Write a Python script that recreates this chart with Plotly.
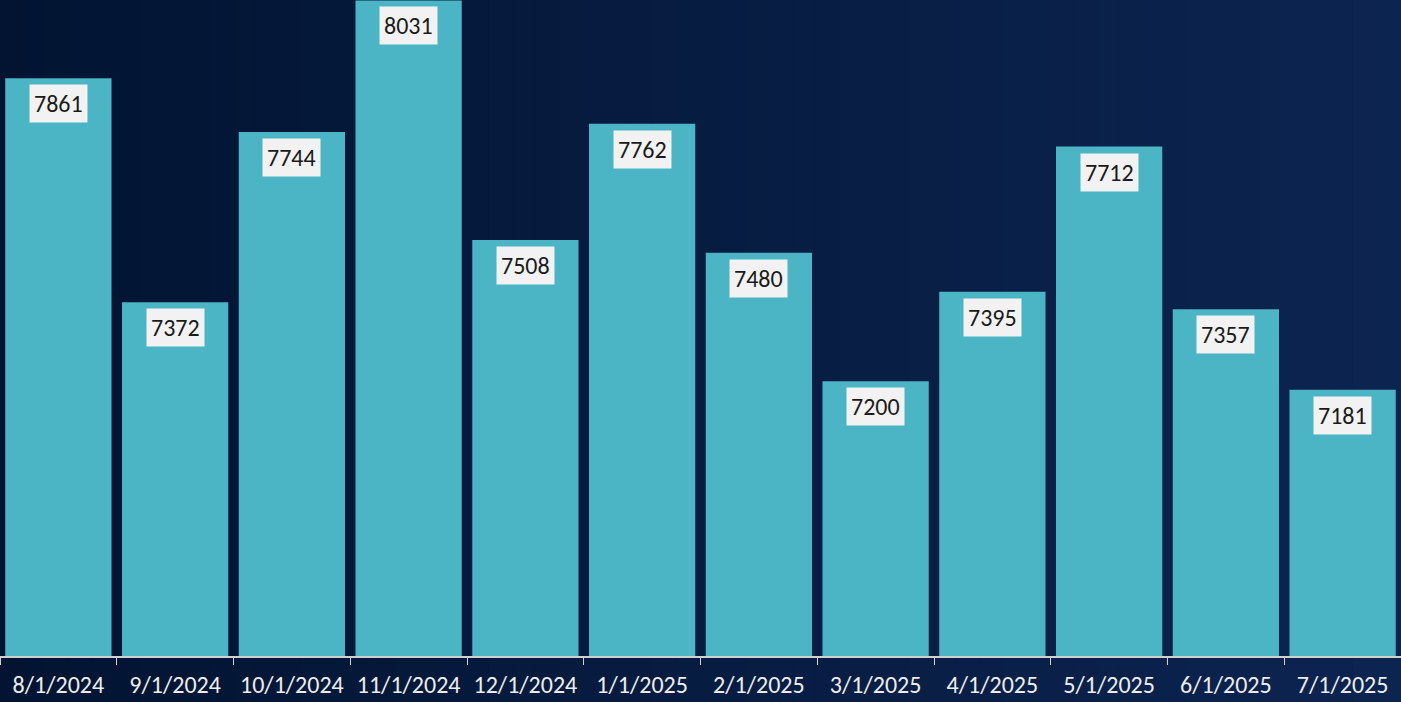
import plotly.graph_objects as go

categories = ["8/1/2024", "9/1/2024", "10/1/2024", "11/1/2024", "12/1/2024", "1/1/2025",
              "2/1/2025", "3/1/2025", "4/1/2025", "5/1/2025", "6/1/2025", "7/1/2025"]
values = [7861, 7372, 7744, 8031, 7508, 7762, 7480, 7200, 7395, 7712, 7357, 7181]

BAR_COLOR = "#4BB5C6"
FONT = "Carlito, Lato, 'Open Sans', sans-serif"

fig = go.Figure()
fig.add_trace(go.Bar(x=categories, y=values, marker=dict(color=BAR_COLOR, line=dict(width=0)),
                     hoverinfo="x+y"))

# data labels as boxed annotations
for c, v in zip(categories, values):
    fig.add_annotation(x=c, y=v, xref="x", yref="y", text=str(v), showarrow=False,
                       yanchor="top", yshift=-6, bgcolor="#F2F2F2", borderpad=4,
                       font=dict(family=FONT, size=24, color="#1a1a1a"))

# horizontal gradient background made of strips
def lerp(a, b, t):
    return tuple(round(a[i] + (b[i] - a[i]) * t) for i in range(3))

left = (2, 20, 50)
right = (12, 36, 80)
n = 60
shapes = []
for i in range(n):
    t = i / (n - 1)
    col = lerp(left, right, t)
    shapes.append(dict(type="rect", xref="paper", yref="paper",
                       x0=i / n - 0.001, x1=(i + 1) / n + 0.001, y0=-0.2, y1=1.05,
                       fillcolor="rgb(%d,%d,%d)" % col, line=dict(width=0), layer="below"))

fig.update_layout(
    width=1401, height=702,
    margin=dict(l=0, r=0, t=0, b=46),
    paper_bgcolor="rgb(7,28,65)",
    plot_bgcolor="rgba(0,0,0,0)",
    bargap=0.09,
    showlegend=False,
    shapes=shapes,
    xaxis=dict(showgrid=False, showline=True, linecolor="#D0D0D0", linewidth=1.5,
               ticks="outside", tickcolor="#D0D0D0", ticklen=7, tickson="boundaries",
               tickangle=0, automargin=False, ticklabelstandoff=6,
               tickfont=dict(family=FONT, size=24, color="#EDEDED"), fixedrange=True),
    yaxis=dict(range=[6600, 8032], visible=False, showgrid=False, zeroline=False,
               fixedrange=True),
)

fig.write_html("out.html", config={"displayModeBar": False},
               post_script="document.body.style.margin='0';document.body.style.background='rgb(7,28,65)';")
